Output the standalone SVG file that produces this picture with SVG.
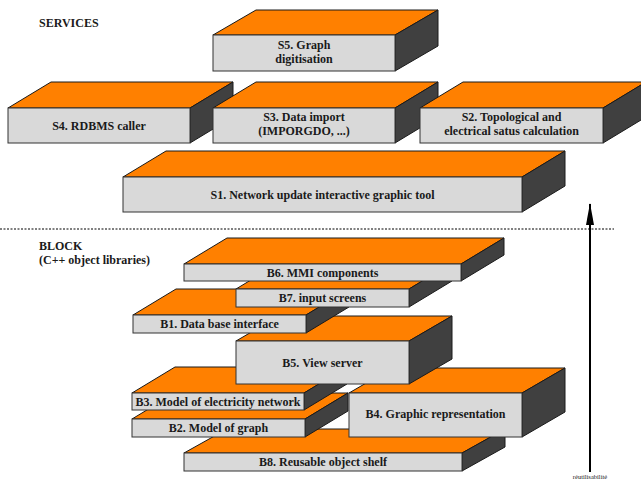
<svg xmlns="http://www.w3.org/2000/svg" width="641" height="479" viewBox="0 0 641 479">
<style>
.top{fill:#FF8000;stroke:#1a1a1a;stroke-width:1;stroke-linejoin:round}
.side{fill:#404040;stroke:#1a1a1a;stroke-width:1;stroke-linejoin:round}
.front{fill:#D9D9D9;stroke:#333;stroke-width:1}
.lbl{font-family:'Liberation Serif','Times New Roman',serif;font-weight:bold;font-size:12px;fill:#1a1a1a;text-anchor:middle}
.hd{font-family:'Liberation Serif','Times New Roman',serif;font-weight:bold;font-size:12px;fill:#1a1a1a}
.small{font-family:'Liberation Serif','Times New Roman',serif;font-size:6.5px;fill:#1a1a1a;text-anchor:middle}
</style>
<defs>
<marker id="ah" markerWidth="22" markerHeight="8" refX="21" refY="4" orient="auto" markerUnits="userSpaceOnUse" viewBox="0 0 22 8">
<path d="M0,0 L22,4 L0,8 Z" fill="#000"/>
</marker>
</defs>
<rect width="641" height="479" fill="#fff"/>
<text class="hd" x="39" y="27">SERVICES</text>
<text class="hd" x="39" y="250">BLOCK</text>
<text class="hd" x="39" y="264">(C++ object libraries)</text>
<line x1="0" y1="229" x2="614" y2="229" stroke="#000" stroke-width="1" stroke-dasharray="2,1.5"/>

<g id="S5">
<polygon class="top" points="213,35 256,10 438,10 395,35"/>
<polygon class="side" points="395,35 438,10 438,46 395,71"/>
<rect class="front" x="213" y="35" width="182" height="36"/>
<text class="lbl" x="304" y="48.5">S5. Graph</text>
<text class="lbl" x="304" y="62.5">digitisation</text>
</g>
<g id="S4">
<polygon class="top" points="8,108 51,82 233,82 190,108"/>
<polygon class="side" points="190,108 233,82 233,117 190,143"/>
<rect class="front" x="8" y="108" width="182" height="35"/>
<text class="lbl" x="99" y="129.5">S4. RDBMS caller</text>
</g>
<g id="S3">
<polygon class="top" points="213,108 256,82 438,82 395,108"/>
<polygon class="side" points="395,108 438,82 438,117 395,143"/>
<rect class="front" x="213" y="108" width="182" height="35"/>
<text class="lbl" x="304" y="121">S3. Data import</text>
<text class="lbl" x="304" y="134.5">(IMPORGDO, ...)</text>
</g>
<g id="S2">
<polygon class="top" points="420,108 463,82 646,82 603,108"/>
<polygon class="side" points="603,108 646,82 646,117 603,143"/>
<rect class="front" x="420" y="108" width="183" height="35"/>
<text class="lbl" x="511.5" y="121">S2. Topological and</text>
<text class="lbl" x="511.5" y="134.5">electrical satus calculation</text>
</g>
<g id="S1">
<polygon class="top" points="123,177 166,151 565,151 522,177"/>
<polygon class="side" points="522,177 565,151 565,186 522,212"/>
<rect class="front" x="123" y="177" width="399" height="35"/>
<text class="lbl" x="322.5" y="198.5">S1. Network update interactive graphic tool</text>
</g>

<g id="B8">
<polygon class="top" points="184,453 227,429 505,429 462,453"/>
<polygon class="side" points="462,453 505,429 505,447 462,471"/>
<rect class="front" x="184" y="453" width="278" height="18"/>
<text class="lbl" x="323" y="466">B8. Reusable object shelf</text>
</g>
<g id="B2">
<polygon class="top" points="132,419 175,393 348,393 305,419"/>
<polygon class="side" points="305,419 348,393 348,411 305,437"/>
<rect class="front" x="132" y="419" width="173" height="18"/>
<text class="lbl" x="218.5" y="432">B2. Model of graph</text>
</g>
<g id="B3">
<polygon class="top" points="132,393 175,367 347,367 304,393"/>
<polygon class="side" points="304,393 347,367 347,384 304,410"/>
<rect class="front" x="132" y="393" width="172" height="17"/>
<text class="lbl" x="218" y="405.5">B3. Model of electricity network</text>
</g>
<g id="B4">
<polygon class="top" points="349,393 392,368 565,368 522,393"/>
<polygon class="side" points="522,393 565,368 565,412 522,437"/>
<rect class="front" x="349" y="393" width="173" height="44"/>
<text class="lbl" x="435.5" y="418">B4. Graphic representation</text>
</g>
<g id="B5">
<polygon class="top" points="236,341 279,316 452,316 409,341"/>
<polygon class="side" points="409,341 452,316 452,359 409,384"/>
<rect class="front" x="236" y="341" width="173" height="43"/>
<text class="lbl" x="322.5" y="367">B5. View server</text>
</g>
<g id="B1">
<polygon class="top" points="133,315 176,289 349,289 306,315"/>
<polygon class="side" points="306,315 349,289 349,307 306,333"/>
<rect class="front" x="133" y="315" width="173" height="18"/>
<text class="lbl" x="219.5" y="328">B1. Data base interface</text>
</g>
<g id="B7">
<polygon class="top" points="236,289 279,263 452,263 409,289"/>
<polygon class="side" points="409,289 452,263 452,281 409,307"/>
<rect class="front" x="236" y="289" width="173" height="18"/>
<text class="lbl" x="322.5" y="302">B7. input screens</text>
</g>
<g id="B6">
<polygon class="top" points="184,264 227,238 504,238 461,264"/>
<polygon class="side" points="461,264 504,238 504,255 461,281"/>
<rect class="front" x="184" y="264" width="277" height="17"/>
<text class="lbl" x="322.5" y="276.5">B6. MMI components</text>
</g>

<g id="connectors">
<line x1="590" y1="472" x2="590" y2="204" stroke="#000" stroke-width="2" marker-end="url(#ah)"/>
</g>
<text class="small" x="590" y="478.5">réutilisabilité</text>
</svg>
